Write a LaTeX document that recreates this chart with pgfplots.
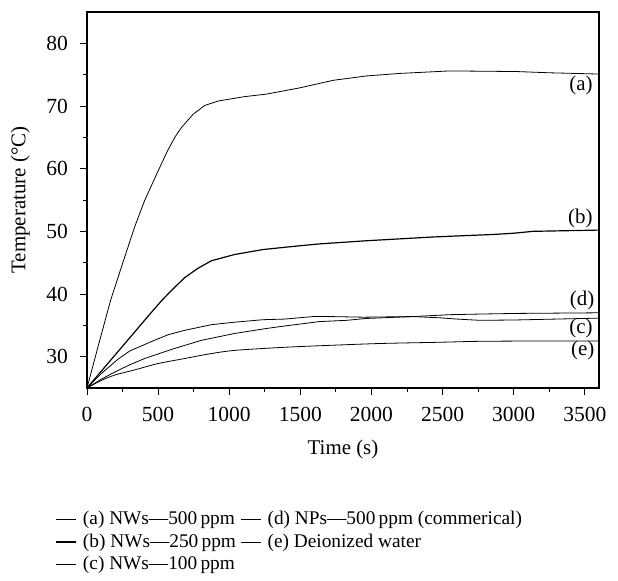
\documentclass[border=0pt]{standalone}
\usepackage{pgfplots}
\pgfplotsset{compat=1.18}
\usepackage{fontspec}
\setmainfont{Liberation Serif}

\pgfplotstableread{
t T
0 25
80 31.8
166 39
265 45.9
335 50.7
405 54.9
487 59.0
565 62.8
620 65.1
665 66.6
747 68.7
829 70.1
923 70.8
1110 71.5
1262 71.9
1497 72.9
1731 74.1
1966 74.8
2200 75.2
2551 75.6
3020 75.5
3254 75.3
3600 75.1
}\dataA

\pgfplotstableread{
t T
0 25
150 29
300 33
450 37
527 39
600 40.7
686 42.6
780 44.1
874 45.3
1037 46.3
1239 47.1
1497 47.7
1637 48.0
1966 48.5
2434 49.1
2856 49.5
3000 49.7
3137 50.0
3600 50.2
}\dataB

\pgfplotstableread{
t T
0 25
100 27.3
218 29.6
300 30.9
452 32.4
570 33.5
686 34.2
874 35.1
1037 35.5
1239 35.9
1391 36.0
1590 36.4
1708 36.4
1942 36.3
2293 36.4
2481 36.2
2600 36.0
2762 35.8
3000 35.85
3300 36.0
3600 36.15
}\dataC

\pgfplotstableread{
t T
0 25
100 26.4
200 27.6
300 28.7
405 29.7
600 31.2
803 32.6
1037 33.7
1262 34.5
1391 34.9
1637 35.6
1825 35.8
1966 36.1
2293 36.4
2551 36.7
2762 36.8
3020 36.9
3600 37.0
}\dataD

\pgfplotstableread{
t T
0 25
100 26.2
200 27.1
337 27.9
500 28.9
686 29.7
850 30.4
1037 31.0
1391 31.5
1700 31.8
2059 32.1
2481 32.3
2762 32.45
3200 32.5
3600 32.5
}\dataE

\begin{document}
\begin{tikzpicture}
\path[use as bounding box] (0,0) rectangle (309bp,290.5bp);
\begin{axis}[
  at={(43.5bp,96.5bp)}, anchor=south west,
  scale only axis, width=256bp, height=188bp,
  xmin=0, xmax=3600, ymin=25, ymax=85,
  xtick={0,500,...,3500}, minor xtick={250,750,...,3250},
  ytick={30,40,...,80}, minor ytick={35,45,...,75},
  tick align=outside, tick pos=left,
  major tick length=3.5bp, minor tick length=2bp,
  xlabel={Time (s)}, ylabel={Temperature (°C)},
  ylabel shift=1.5bp, xlabel shift=2.5bp,
  label style={font=\fontsize{10.5}{12.6}\selectfont},
  tick label style={font=\fontsize{10.8}{13}\selectfont},
  /pgf/number format/assume math mode=true,
  scaled x ticks=false,
  xticklabel style={/pgf/number format/1000 sep={}, yshift=-2.5bp},
  yticklabel style={xshift=-2.5bp},
  axis line style={line width=0.6pt},
  every tick/.style={black, line width=0.5pt},
  cycle list={{black, mark=none, line width=0.6pt, smooth, tension=0.45}},
  legend columns=2, legend cell align=left,
  legend image code/.code={\draw[#1] (0bp,0bp) -- (10bp,0bp); \path (12bp,0bp);},
  legend style={draw=none, fill=none, at={(0,0)}, anchor=north west,
    xshift=-16bp, yshift=-60bp, inner sep=0pt,
    font=\fontsize{9.7}{11.6}\selectfont,
    /tikz/every even column/.append style={column sep=1bp},
    nodes={inner ysep=1.5bp, inner xsep=1.2bp}},
]
\addplot table[x=t,y=T] {\dataA}; \addlegendentry{(a) NWs—500\,ppm}
\addplot table[x=t,y=T] {\dataD}; \addlegendentry{(d) NPs—500\,ppm (commerical)}
\addplot table[x=t,y=T] {\dataB}; \addlegendentry{(b) NWs—250\,ppm}
\addplot table[x=t,y=T] {\dataE}; \addlegendentry{(e) Deionized water}
\addplot table[x=t,y=T] {\dataC}; \addlegendentry{(c) NWs—100\,ppm}
\node[anchor=east, inner sep=0pt, font=\fontsize{10.5}{12.6}\selectfont] at (axis cs:3558,73.2) {(a)};
\node[anchor=east, inner sep=0pt, font=\fontsize{10.5}{12.6}\selectfont] at (axis cs:3558,52.0) {(b)};
\node[anchor=east, inner sep=0pt, font=\fontsize{10.5}{12.6}\selectfont] at (axis cs:3570,39.0) {(d)};
\node[anchor=east, inner sep=0pt, font=\fontsize{10.5}{12.6}\selectfont] at (axis cs:3558,34.5) {(c)};
\node[anchor=east, inner sep=0pt, font=\fontsize{10.5}{12.6}\selectfont] at (axis cs:3570,31.05) {(e)};
\end{axis}
\end{tikzpicture}
\end{document}
